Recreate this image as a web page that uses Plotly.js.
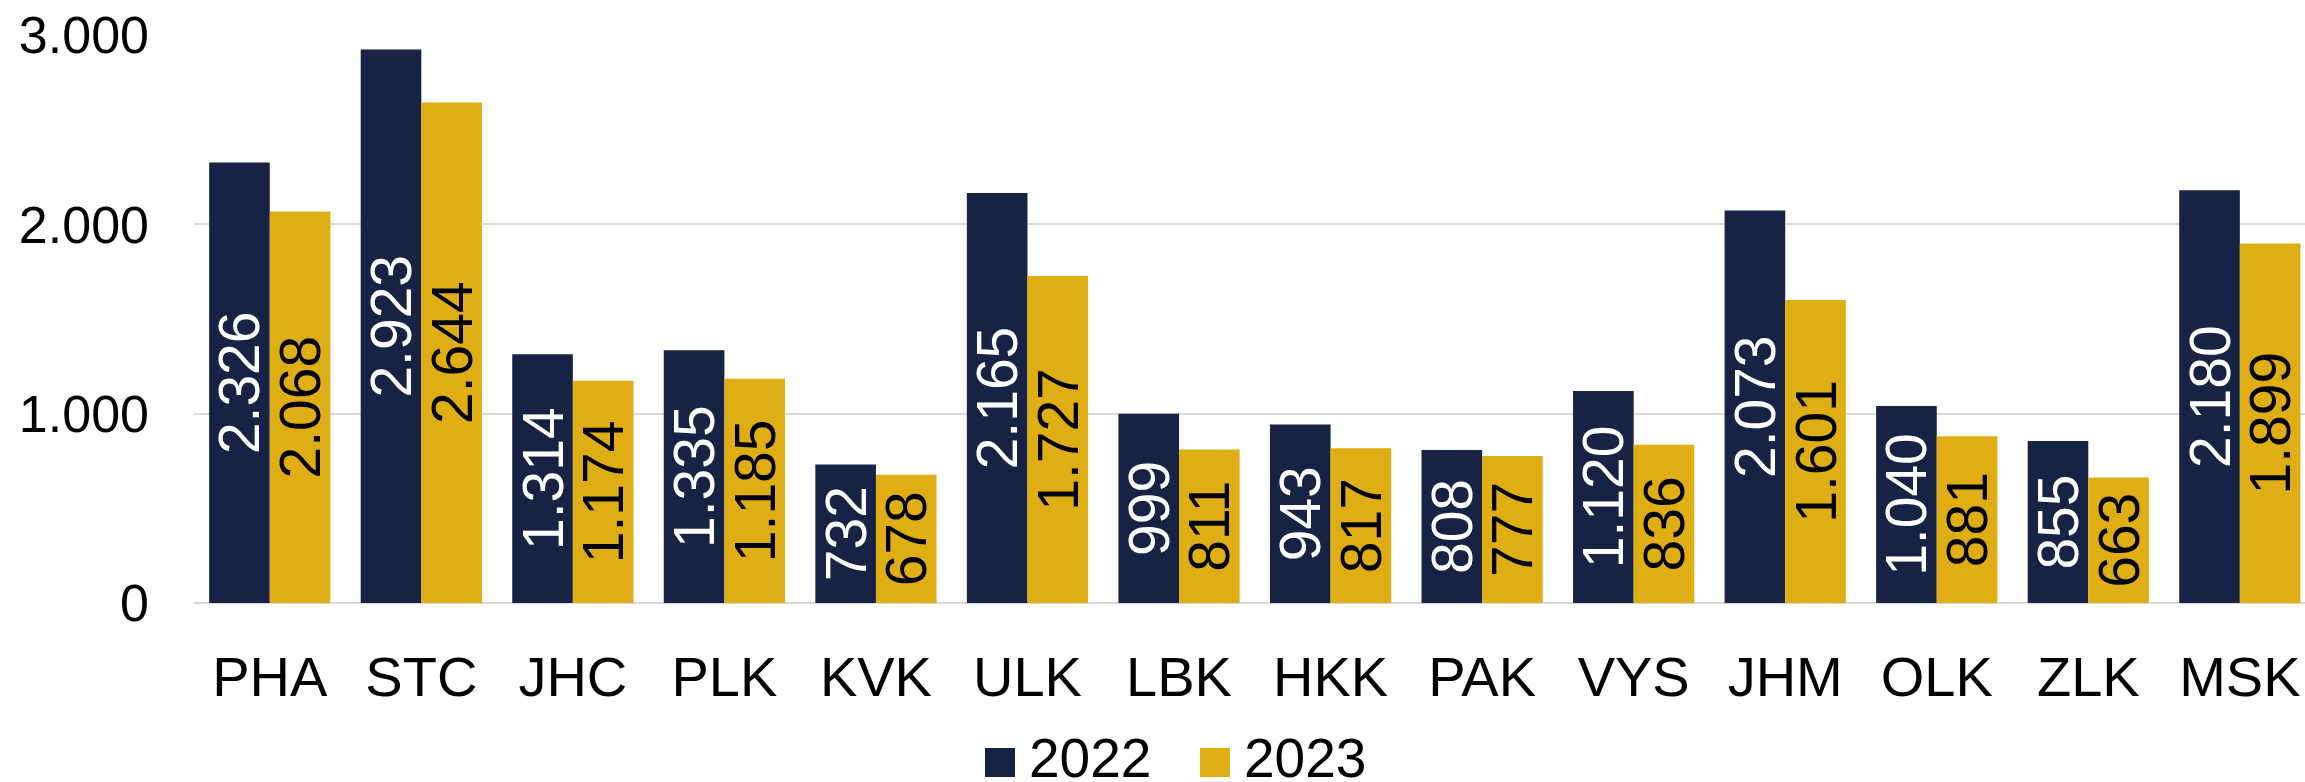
<!DOCTYPE html>
<html>
<head>
<meta charset="utf-8">
<script src="https://cdn.plot.ly/plotly-3.0.1.min.js"></script>
<style>html,body{margin:0;padding:0;background:#fff;}#chart{width:2305px;height:782px;}</style>
</head>
<body>
<div id="chart"></div>
<script>
// ---- data ----
var categories = ["PHA","STC","JHC","PLK","KVK","ULK","LBK","HKK","PAK","VYS","JHM","OLK","ZLK","MSK"];
var values2022 = [2326, 2923, 1314, 1335, 732, 2165, 999, 943, 808, 1120, 2073, 1040, 855, 2180];
var values2023 = [2068, 2644, 1174, 1185, 678, 1727, 811, 817, 777, 836, 1601, 881, 663, 1899];
var seriesNames = ["2022", "2023"];
var yTickVals = [0, 1000, 2000, 3000];

// ---- style ----
var NAVY = "#172345";
var GOLD = "#DFAE15";
var FONT = "Liberation Sans, Arial, Helvetica, sans-serif";
var W = 2305, H = 782;
var M = {l: 194, r: 0, t: 35, b: 179};
var plotW = W - M.l - M.r, plotH = H - M.t - M.b;
function px2paperX(px){ return (px - M.l) / plotW; }
function px2paperY(py){ return (H - M.b - py) / plotH; }

var traces = [
  {
    type: "bar", name: seriesNames[0], x: categories, y: values2022,
    marker: {color: NAVY},
    texttemplate: "%{y:,}", textposition: "inside", insidetextanchor: "middle",
    textangle: -90, textfont: {family: FONT, size: 57, color: "#ffffff"},
    showlegend: false, hoverinfo: "x+y"
  },
  {
    type: "bar", name: seriesNames[1], x: categories, y: values2023,
    marker: {color: GOLD},
    texttemplate: "%{y:,}", textposition: "inside", insidetextanchor: "middle",
    textangle: -90, textfont: {family: FONT, size: 57, color: "#000000"},
    showlegend: false, hoverinfo: "x+y"
  }
];

// custom legend (large square swatches)
var legendItems = [
  {color: NAVY, sq: 985, tx: 1027, label: seriesNames[0]},
  {color: GOLD, sq: 1200, tx: 1242, label: seriesNames[1]}
];
var shapes = [], annotations = [];
legendItems.forEach(function(it){
  shapes.push({type: "rect", xref: "paper", yref: "paper",
    x0: px2paperX(it.sq), x1: px2paperX(it.sq + 30),
    y0: px2paperY(777), y1: px2paperY(748),
    fillcolor: it.color, line: {width: 0}});
  annotations.push({xref: "paper", yref: "paper", x: px2paperX(it.tx), y: px2paperY(758),
    xanchor: "left", yanchor: "middle", showarrow: false, text: it.label,
    font: {family: FONT, size: 55, color: "#000000"}});
});

var layout = {
  width: W, height: H,
  margin: M,
  paper_bgcolor: "#ffffff", plot_bgcolor: "#ffffff",
  separators: ",.",
  barmode: "group", bargap: 0.2, bargroupgap: 0,
  uniformtext: {mode: "show", minsize: 57},
  showlegend: false,
  font: {family: FONT, color: "#000000"},
  xaxis: {
    type: "category", range: [-0.5, 13.43],
    showgrid: false, zeroline: false, showline: false, ticks: "",
    tickfont: {family: FONT, size: 56, color: "#000000"},
    ticklabelstandoff: 36
  },
  yaxis: {
    range: [0, 3000], tickvals: yTickVals, tickformat: ",",
    showgrid: true, gridcolor: "#d9d9d9", gridwidth: 2,
    zeroline: true, zerolinecolor: "#d9d9d9", zerolinewidth: 2,
    showline: false, ticks: "",
    tickfont: {family: FONT, size: 52, color: "#000000"},
    ticklabelstandoff: 44
  },
  shapes: shapes,
  annotations: annotations
};

Plotly.newPlot("chart", traces, layout, {displayModeBar: false, staticPlot: true});
</script>
</body>
</html>
